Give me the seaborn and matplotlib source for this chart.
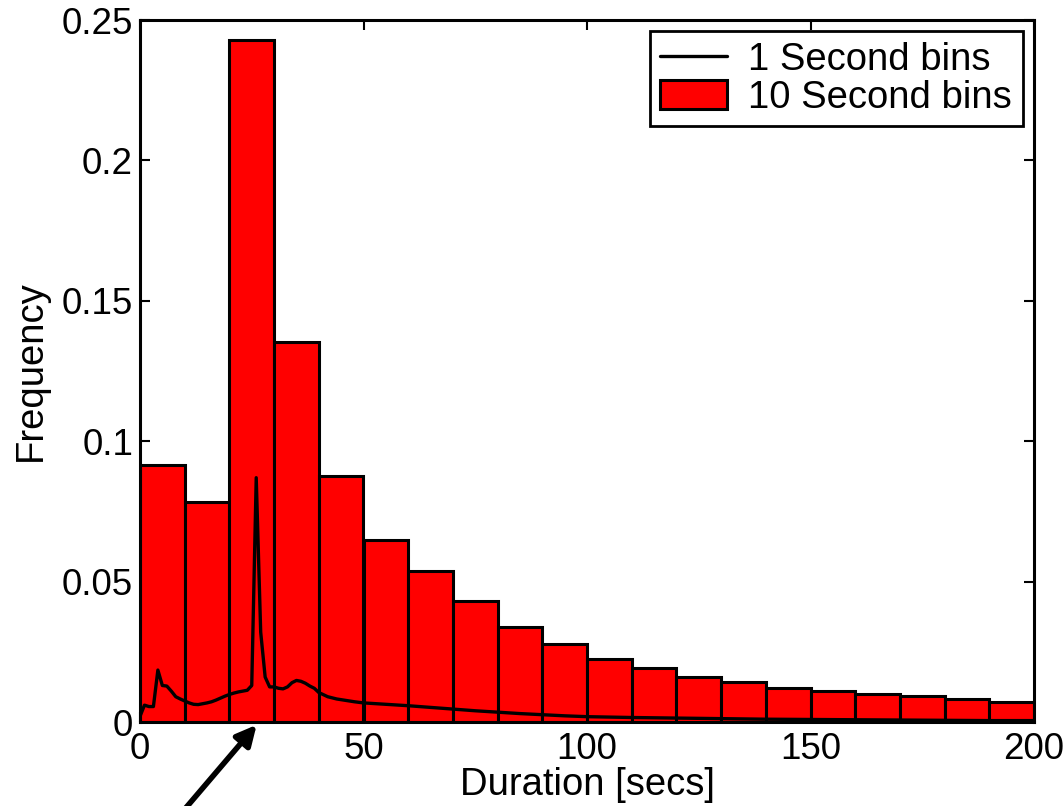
import numpy as np
import pandas as pd
import matplotlib
matplotlib.use("Agg")
import matplotlib.pyplot as plt
import seaborn as sns

# 10-second bins (left edges) and their frequencies
bin_left = [0, 10, 20, 30, 40, 50, 60, 70, 80, 90, 100, 110, 120, 130, 140, 150, 160, 170, 180, 190]
bin_freq = [0.0915, 0.0783, 0.2429, 0.1353, 0.0876, 0.0648, 0.0538, 0.0431, 0.0338, 0.0276,
            0.0224, 0.0194, 0.0162, 0.0142, 0.0121, 0.0111, 0.0100, 0.0093, 0.0082, 0.0072]

# 1-second bins curve (read at selected seconds)
sec_x = [0, 1, 2, 3, 4, 5, 6, 7, 8, 9, 10, 11, 12, 13, 14, 15, 16, 17, 18, 19, 20,
         21, 22, 23, 24, 25, 26, 27, 28, 29, 30, 31, 32, 33, 34, 35, 36, 37, 38, 39, 40,
         42, 44, 46, 48, 50, 55, 60, 65, 70, 75, 80, 85, 90, 95, 100,
         110, 120, 130, 140, 150, 160, 170, 180, 190, 200]
sec_y = [0.002, 0.006, 0.0055, 0.0055, 0.0185, 0.013, 0.0128, 0.011, 0.009, 0.0082, 0.0075,
         0.0068, 0.0063, 0.0062, 0.0065, 0.0068, 0.0072, 0.0078, 0.0085, 0.0092, 0.0098,
         0.0103, 0.0107, 0.011, 0.0113, 0.013, 0.087, 0.032, 0.016, 0.0125, 0.0125,
         0.012, 0.0118, 0.0125, 0.014, 0.0148, 0.0145, 0.0138, 0.0128, 0.012, 0.0105,
         0.009, 0.0082, 0.0077, 0.0072, 0.0068, 0.0063, 0.0058, 0.0052, 0.0046, 0.0040,
         0.0035, 0.0030, 0.0026, 0.0022, 0.0019, 0.0016, 0.0014, 0.0012, 0.0010, 0.0009,
         0.0008, 0.0007, 0.0006, 0.0005, 0.0005]

x_ticks = [0, 50, 100, 150, 200]
y_ticks = [0, 0.05, 0.1, 0.15, 0.2, 0.25]
y_tick_labels = ["0", "0.05", "0.1", "0.15", "0.2", "0.25"]
labels = ["1 Second bins", "10 Second bins"]

sns.set_style("ticks")
plt.rcParams["font.family"] = ["Liberation Sans", "DejaVu Sans"]
plt.rcParams.update({
    "xtick.direction": "in", "ytick.direction": "in",
    "xtick.top": True, "ytick.right": True,
    "xtick.major.size": 7, "ytick.major.size": 7,
    "xtick.major.width": 1.5, "ytick.major.width": 1.5,
    "axes.linewidth": 2.2, "axes.edgecolor": "black",
    "xtick.color": "black", "ytick.color": "black",
    "axes.labelcolor": "black", "text.color": "black",
})

FS = 26.5

fig = plt.figure(figsize=(10.64, 8.06), dpi=100)
ax = fig.add_axes([140 / 1064, 1 - 722 / 806, (1034 - 140) / 1064, (722 - 20) / 806])

bins_df = pd.DataFrame({"center": np.array(bin_left, dtype=float) + 5, "freq": bin_freq})
sns.histplot(data=bins_df, x="center", weights="freq", binwidth=10, binrange=(0, 200),
             color="#ff0000", edgecolor="black", linewidth=2.2, alpha=1, ax=ax)

line_df = pd.DataFrame({"x": sec_x, "y": sec_y})
sns.lineplot(data=line_df, x="x", y="y", color="black", linewidth=2.4, ax=ax)

ax.set_xlim(0, 200)
ax.set_ylim(0, 0.25)
ax.set_xticks(x_ticks)
ax.set_yticks(y_ticks)
ax.set_yticklabels(y_tick_labels)
ax.tick_params(axis="both", labelsize=FS, colors="black")
ax.tick_params(axis="x", pad=7)
ax.tick_params(axis="y", pad=5)
ax.set_xlabel("Duration [secs]", fontsize=FS + 1, labelpad=0)
ax.set_ylabel("Frequency", fontsize=FS + 1, labelpad=9)

leg = ax.legend(handles=[ax.lines[0], ax.patches[0]], labels=labels, loc="upper right",
                fontsize=FS + 1, fancybox=False, framealpha=1, edgecolor="black",
                handlelength=1.75, handleheight=0.8, handletextpad=0.55,
                labelspacing=0.04, borderpad=0.28, borderaxespad=0.3)
leg.get_frame().set_linewidth(2)

ax.annotate("", xy=(26.1, -0.001), xytext=(2.0, -0.046), xycoords="data",
            arrowprops=dict(arrowstyle="-|>", lw=4, color="black", mutation_scale=30,
                            shrinkA=0, shrinkB=0),
            annotation_clip=False)

fig.savefig("out.png", dpi=100)
